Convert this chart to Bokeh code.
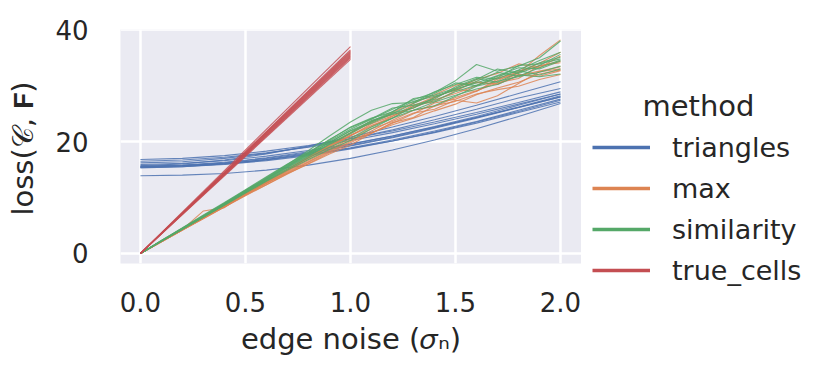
from bokeh.plotting import figure
from bokeh.models import FixedTicker, Legend, LegendItem, Range1d, Label
from bokeh.layouts import row
from bokeh.embed import file_html
from bokeh.resources import INLINE

# ---------------- data ----------------
methods = ["triangles", "max", "similarity", "true_cells"]
colors = ["#4c72b0", "#dd8452", "#55a868", "#c44e52"]

x_tri = [0.0, 0.2, 0.4, 0.6, 0.8, 1.0, 1.2, 1.4, 1.6, 1.8, 2.0]
triangles = [
    [16.8, 17.0, 17.5, 18.3, 19.3, 20.5, 21.9, 23.5, 25.2, 27.0, 28.9],
    [16.5, 16.7, 17.2, 18.0, 19.0, 20.2, 21.6, 23.2, 24.9, 26.7, 28.5],
    [16.2, 16.4, 17.0, 17.9, 19.1, 20.5, 22.1, 23.9, 25.8, 27.8, 29.5],
    [15.9, 16.1, 16.6, 17.4, 18.4, 19.6, 21.0, 22.6, 24.3, 26.1, 28.0],
    [15.7, 16.0, 16.7, 17.8, 19.2, 20.8, 22.6, 24.5, 26.5, 28.6, 30.7],
    [15.6, 15.7, 16.1, 16.8, 17.7, 18.8, 20.1, 21.6, 23.3, 25.2, 27.1],
    [15.5, 15.7, 16.2, 17.0, 18.0, 19.3, 20.8, 22.5, 24.3, 26.2, 28.2],
    [15.4, 15.5, 15.9, 16.6, 17.5, 18.7, 20.1, 21.7, 23.5, 25.4, 27.4],
    [15.3, 15.5, 16.0, 16.8, 17.9, 19.2, 20.7, 22.4, 24.2, 26.1, 28.0],
    [15.6, 15.8, 16.3, 17.1, 18.2, 19.5, 21.0, 22.7, 24.5, 26.5, 28.5],
    [15.4, 15.6, 16.0, 16.7, 17.7, 18.9, 20.3, 21.9, 23.6, 25.6, 27.6],
    [13.9, 14.0, 14.3, 14.9, 15.8, 17.0, 18.5, 20.3, 22.3, 24.5, 26.8],
]

x_noise = [0.0, 0.1, 0.2, 0.3, 0.4, 0.5, 0.6, 0.7, 0.8, 0.9, 1.0,
           1.1, 1.2, 1.3, 1.4, 1.5, 1.6, 1.7, 1.8, 1.9, 2.0]
max_runs = [
    [0, 2.2, 4.3, 7.6, 8.2, 10.7, 12.6, 14.4, 16.3, 18.2, 20.0, 21.9, 23.8, 25.6, 26.3, 27.9, 29.1, 30.5, 31.3, 33.6, 34.1],
    [0, 2.1, 4.2, 6.4, 8.5, 10.6, 12.7, 14.8, 16.8, 18.9, 21.0, 23.2, 24.6, 26.1, 27.5, 28.6, 30.0, 31.4, 32.3, 35.4, 38.2],
    [0, 2.2, 4.3, 6.5, 8.6, 10.7, 12.8, 14.9, 17.0, 19.1, 21.1, 22.7, 24.5, 26.6, 27.1, 29.1, 30.7, 30.2, 31.8, 32.6, 33.4],
    [0, 2.1, 4.2, 6.3, 8.4, 10.5, 12.5, 14.5, 16.4, 18.4, 20.3, 21.5, 23.4, 24.3, 26.4, 27.2, 28.5, 29.3, 29.9, 31.1, 32.0],
    [0, 2.2, 4.4, 6.6, 8.8, 10.9, 13.0, 15.1, 17.3, 19.5, 21.6, 23.7, 24.8, 26.0, 27.8, 29.5, 31.1, 32.2, 33.9, 33.2, 35.3],
    [0, 2.1, 4.2, 6.3, 8.3, 10.4, 12.3, 14.3, 16.0, 17.8, 19.4, 21.5, 23.3, 25.0, 26.9, 27.6, 29.0, 30.9, 32.6, 33.5, 34.4],
    [0, 2.2, 4.3, 6.5, 8.7, 10.8, 12.9, 15.0, 17.1, 19.2, 21.2, 22.9, 24.2, 26.4, 28.0, 29.3, 29.0, 31.2, 32.0, 31.7, 32.7],
    [0, 2.1, 4.3, 6.4, 8.5, 10.6, 12.6, 14.7, 16.6, 18.6, 20.6, 22.3, 23.6, 25.1, 25.8, 27.4, 26.9, 28.2, 30.4, 32.5, 33.0],
    [0, 2.2, 4.4, 6.5, 8.7, 10.8, 12.9, 15.0, 17.2, 19.3, 21.5, 23.4, 25.2, 26.9, 28.4, 30.1, 30.6, 30.3, 32.3, 34.0, 36.0],
    [0, 2.1, 4.2, 6.2, 8.3, 10.3, 12.3, 14.2, 16.1, 18.0, 19.8, 21.6, 23.0, 24.2, 25.5, 26.7, 28.4, 29.6, 30.6, 32.1, 32.8],
]
similarity_runs = [
    [0, 2.3, 4.5, 6.8, 9.0, 11.3, 13.6, 15.9, 18.4, 21.0, 23.5, 25.6, 26.8, 27.0, 28.9, 30.2, 31.5, 31.2, 32.8, 34.5, 36.0],
    [0, 2.2, 4.4, 6.6, 8.9, 11.2, 13.4, 15.7, 17.9, 20.1, 22.2, 24.0, 25.8, 27.5, 28.8, 30.9, 33.8, 32.6, 33.5, 35.0, 38.0],
    [0, 2.2, 4.4, 6.5, 8.7, 10.9, 13.1, 15.3, 17.4, 19.5, 21.4, 23.5, 25.1, 26.0, 27.9, 29.4, 30.5, 31.8, 33.2, 33.0, 34.4],
    [0, 2.3, 4.6, 6.9, 9.1, 11.4, 13.7, 16.0, 18.1, 20.3, 22.6, 24.2, 25.3, 27.7, 28.3, 29.6, 31.1, 33.0, 32.2, 33.6, 35.6],
    [0, 2.2, 4.3, 6.5, 8.6, 10.8, 12.9, 14.9, 16.8, 18.6, 20.2, 22.3, 24.2, 25.6, 26.4, 28.1, 29.9, 30.8, 31.6, 32.4, 33.5],
    [0, 2.2, 4.5, 6.7, 8.9, 11.1, 13.3, 15.5, 17.7, 19.9, 21.9, 23.3, 25.0, 26.8, 28.6, 30.5, 30.0, 31.4, 33.6, 33.9, 34.8],
    [0, 2.2, 4.4, 6.6, 8.8, 11.0, 13.2, 15.4, 17.5, 19.6, 21.6, 23.8, 24.9, 25.6, 27.1, 28.3, 29.4, 30.2, 31.9, 31.6, 32.1],
    [0, 2.3, 4.5, 6.7, 9.0, 11.2, 13.5, 15.8, 18.0, 20.4, 22.5, 24.1, 26.0, 26.5, 27.6, 29.8, 31.3, 30.6, 32.4, 34.1, 35.1],
    [0, 2.2, 4.3, 6.5, 8.7, 10.9, 13.0, 15.1, 17.1, 19.0, 20.6, 22.6, 24.2, 26.3, 27.3, 28.9, 30.1, 31.7, 32.7, 31.9, 33.0],
    [0, 2.2, 4.4, 6.6, 8.8, 11.1, 13.3, 15.6, 17.8, 19.8, 22.0, 23.6, 25.4, 27.2, 28.1, 29.2, 30.8, 32.4, 31.7, 33.2, 34.6],
]
x_true = [0.0, 1.0]
true_cells = [
    [0.0, 37.0], [0.0, 36.4], [0.0, 36.2], [0.0, 36.0], [0.0, 35.8],
    [0.0, 35.6], [0.0, 35.4], [0.0, 35.2], [0.0, 35.0], [0.0, 34.7],
]

x_ticks = [0.0, 0.5, 1.0, 1.5, 2.0]
x_tick_labels = ["0.0", "0.5", "1.0", "1.5", "2.0"]
y_ticks = [0, 20, 40]
y_tick_labels = ["0", "20", "40"]
legend_title = "method"

TEXT = "#262626"
FONT = "DejaVu Sans"

# ---------------- main plot ----------------
p = figure(width=581, height=375, output_backend="svg", toolbar_location=None,
           x_range=Range1d(-0.095, 2.1), y_range=Range1d(-1.8, 40.05),
           min_border_left=120, min_border_right=0, min_border_top=29,
           min_border_bottom=112)
p.background_fill_color = "#eaeaf2"
p.border_fill_color = "white"
p.outline_line_color = None

for g in (p.xgrid, p.ygrid):
    g.grid_line_color = "white"
    g.grid_line_width = 2.5
p.xgrid.ticker = FixedTicker(ticks=x_ticks)
p.ygrid.ticker = FixedTicker(ticks=y_ticks)

for ax in (p.xaxis, p.yaxis):
    ax.axis_line_color = None
    ax.major_tick_line_color = None
    ax.minor_tick_line_color = None
    ax.major_label_text_font = FONT
    ax.major_label_text_font_size = "26px"
    ax.major_label_text_color = TEXT
    ax.axis_label_text_font = FONT
    ax.axis_label_text_font_size = "29px"
    ax.axis_label_text_font_style = "normal"
    ax.axis_label_text_color = TEXT

p.xaxis.ticker = FixedTicker(ticks=x_ticks)
p.xaxis.major_label_overrides = {t: l for t, l in zip(x_ticks, x_tick_labels)}
p.yaxis.ticker = FixedTicker(ticks=y_ticks)
p.yaxis.major_label_overrides = {t: l for t, l in zip(y_ticks, y_tick_labels)}
p.xaxis.major_label_standoff = 22
p.yaxis.major_label_standoff = 26
p.xaxis.axis_label = "edge noise (\U0001D70E\u2099)"
p.yaxis.axis_label = "loss(\U0001D49E, \U0001D5D9)"
p.xaxis.axis_label_standoff = 7
p.yaxis.axis_label_standoff = 12

groups = [(x_tri, triangles), (x_noise, max_runs), (x_noise, similarity_runs), (x_true, true_cells)]
for (xs, runs), c in zip(groups, colors):
    p.multi_line(xs=[xs] * len(runs), ys=runs, line_color=c, line_width=1.1, line_alpha=0.85)

# ---------------- legend panel ----------------
lg = figure(width=248, height=375, output_backend="svg", toolbar_location=None,
            x_range=Range1d(0, 1), y_range=Range1d(0, 1),
            x_axis_type=None, y_axis_type=None, min_border=0,
            min_border_left=0, min_border_right=0, min_border_top=0, min_border_bottom=0)
lg.frame_align = False
lg.grid.visible = False
lg.outline_line_color = None
lg.background_fill_color = "white"
lg.border_fill_color = "white"

keys = []
for (xs, runs), c in zip(groups, colors):
    r = lg.line(x=xs, y=runs[0], line_color=c, line_width=3.5)
    r.visible = False
    keys.append(r)

legend = Legend(items=[LegendItem(label=m, renderers=[r]) for m, r in zip(methods, keys)],
                location=(11, 86), padding=0, spacing=3, margin=0,
                glyph_width=58, glyph_height=38, label_height=38, label_standoff=22,
                label_text_font=FONT, label_text_font_size="27px", label_text_color=TEXT,
                border_line_color=None, background_fill_alpha=0, inactive_fill_alpha=0)
lg.add_layout(legend)
lg.add_layout(Label(x=117, y=270, x_units="screen", y_units="screen", text=legend_title,
                    text_align="center", text_baseline="middle", text_font=FONT,
                    text_font_size="29px", text_color=TEXT))

open("out.html", "w").write(file_html(row(p, lg), INLINE))
